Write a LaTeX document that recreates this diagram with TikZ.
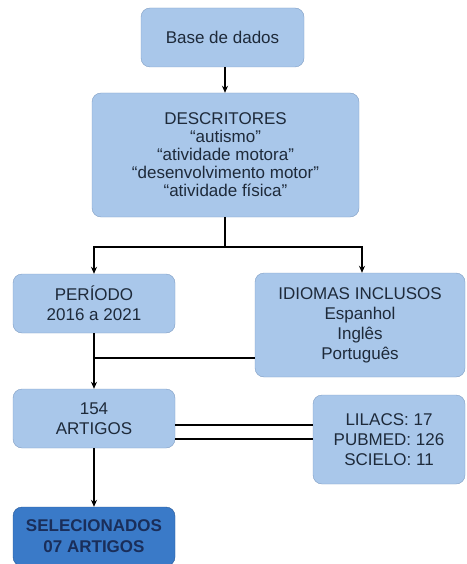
\documentclass[tikz,border=0pt]{standalone}
\usepackage{fontspec}
\setmainfont{Liberation Sans}
\definecolor{boxblue}{RGB}{169, 199, 234}
\definecolor{boxedge}{RGB}{128, 158, 196}
\definecolor{darkblue}{RGB}{58, 122, 200}
\definecolor{darkedge}{RGB}{40, 88, 150}
\definecolor{inktext}{RGB}{30, 42, 58}
\definecolor{navytext}{RGB}{26, 46, 90}
\usetikzlibrary{arrows.meta, positioning, calc}

\begin{document}
\begin{tikzpicture}[x=1pt, y=-1pt,
    stage/.style={draw=boxedge, fill=boxblue, rounded corners=9pt, align=center,
        text=inktext, inner sep=0pt, font=\fontsize{17}{20}\selectfont},
    result/.style={stage, draw=darkedge, fill=darkblue, text=navytext,
        font=\fontsize{17}{21}\selectfont\bfseries},
    link/.style={line width=1.2pt, black},
    flow/.style={link, -{Stealth[length=7pt, width=6pt]}}]
    \useasboundingbox (0,0) rectangle (466,564);

    % Search steps
    \node[stage, minimum width=163pt, minimum height=59pt] (base) at (222.5,37.5) {Base de dados};
    \node[stage, minimum width=267pt, minimum height=124pt, font=\fontsize{17}{18}\selectfont] (descr) at (225.5,155)
        {DESCRITORES\\“autismo”\\“atividade motora”\\“desenvolvimento motor”\\“atividade física”};
    \node[stage, minimum width=162pt, minimum height=59pt] (periodo) at (94,303.5) {PERÍODO\\2016 a 2021};
    \node[stage, minimum width=210pt, minimum height=104pt] (idiomas) at (360,325)
        {IDIOMAS INCLUSOS\\Espanhol\\Inglês\\Português};
    \node[stage, minimum width=162pt, minimum height=59pt] (artigos) at (94,418.5) {154\\ARTIGOS};
    \node[stage, minimum width=152pt, minimum height=89pt] (bases) at (389,439.5)
        {LILACS: 17\\PUBMED: 126\\SCIELO: 11};
    \node[result, minimum width=162pt, minimum height=59pt] (selec) at (94,536.5) {SELECIONADOS\\07 ARTIGOS};

    % Connectors
    \coordinate (split) at (225,247);
    \coordinate (join) at (94,358);
    \draw[flow] (base.south -| split) -- (descr.north -| split);
    \draw[link] (descr.south -| split) -- (split);
    \draw[flow] (split) -| (periodo.north);
    \draw[flow] (split) -| ([xshift=2pt]idiomas.north);
    \draw[flow] (periodo.south) -- (artigos.north);
    \draw[link] (join -| idiomas.west) -- (join);
    \draw[link] ([yshift=-6.5pt]artigos.east) -- ([yshift=-6.5pt]artigos.east -| bases.west);
    \draw[link] ([yshift=-20.5pt]artigos.east) -- ([yshift=-20.5pt]artigos.east -| bases.west);
    \draw[flow] (artigos.south) -- (selec.north);
\end{tikzpicture}
\end{document}
